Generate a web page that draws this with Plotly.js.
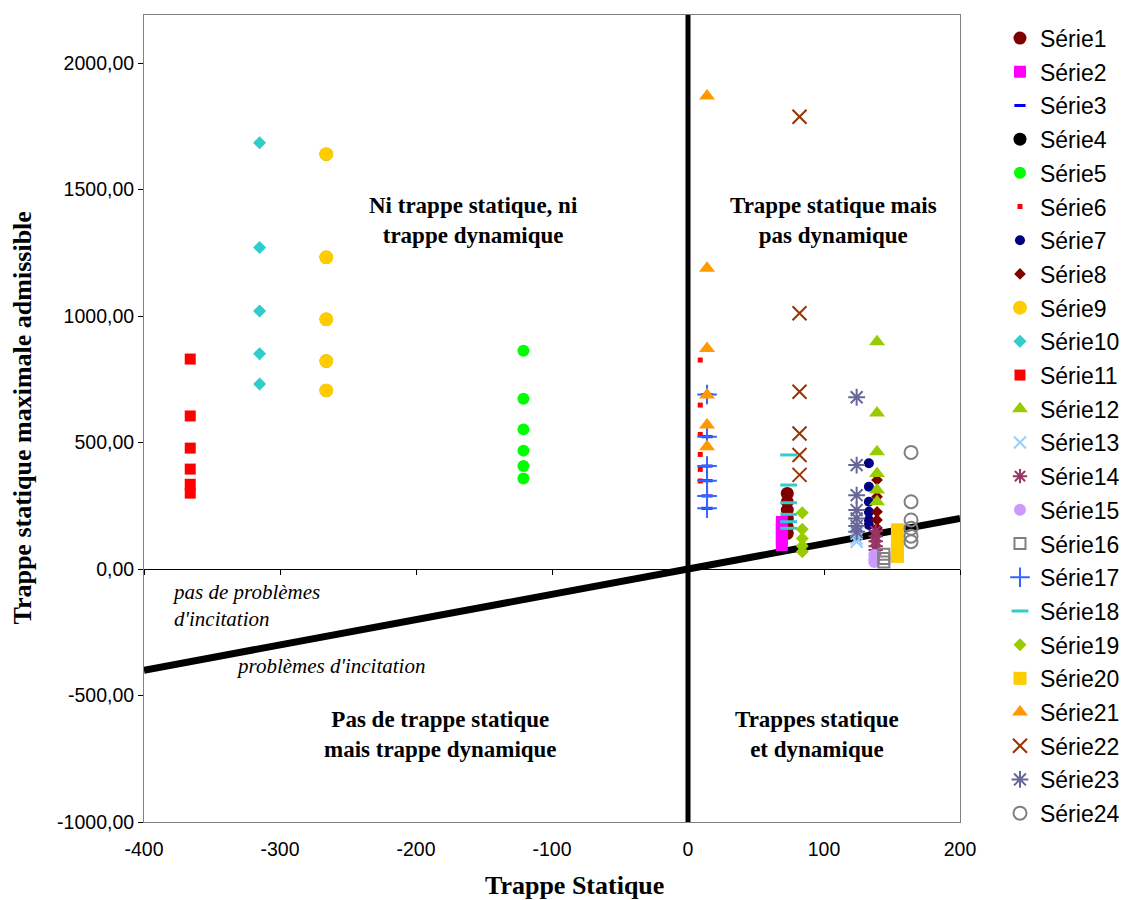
<!DOCTYPE html>
<html><head><meta charset="utf-8">
<script src="https://cdn.plot.ly/plotly-3.0.1.min.js"></script>
<style>body{margin:0;background:#fff}#chart{width:1122px;height:900px}</style>
</head><body><div id="chart"></div>
<script>
// ---- data ----
const seriesNames = ["Série1","Série2","Série3","Série4","Série5","Série6","Série7","Série8","Série9","Série10","Série11","Série12","Série13","Série14","Série15","Série16","Série17","Série18","Série19","Série20","Série21","Série22","Série23","Série24"];
const s01x = [73,73,73,73,73,73];            const s01y = [299,266,233,200,167,141];
const s02x = [69,69,69,69,69];               const s02y = [186,163,140,117,95];
const s03x = [14,14,14,14,14,14];            const s03y = [690,523,407,349,289,240];
const s04x = [-266,-266,-266,-266,-266];     const s04y = [1640,1232,987,822,706];
const s05x = [-121,-121,-121,-121,-121,-121];const s05y = [863,673,552,468,407,358];
const s06x = [9,9,9,9,9,9];                  const s06y = [826,648,532,453,394,348];
const s07x = [133,133,133,133,133,133];      const s07y = [418,325,266,226,194,174];
const s08x = [139,139,139,139,139];          const s08y = [352,286,226,194,162];
const s09x = [-266,-266,-266,-266,-266];     const s09y = [1640,1232,987,822,706];
const s10x = [-315,-315,-315,-315,-315];     const s10y = [1685,1271,1020,851,731];
const s11x = [-366,-366,-366,-366,-366,-366];const s11y = [830,605,478,395,335,300];
const s12x = [139,139,139,139,139,139];      const s12y = [898,617,464,378,312,266];
const s13x = [124,124,124];                  const s13y = [140,120,108];
const s14x = [138,138,138,138,138];          const s14y = [150,130,110,90,75];
const s15x = [137,137,137];                  const s15y = [55,40,28];
const s16x = [144,144,144];                  const s16y = [58,42,28];
const s17x = [14,14,14,14,14,14];            const s17y = [690,523,407,349,289,240];
const s18x = [74,74,74,74,74,74];            const s18y = [451,332,262,216,187,161];
const s19x = [84,84,84,84,84];               const s19y = [222,157,121,91,68];
const s20x = [154,154,154,154,154];          const s20y = [155,125,100,75,50];
const s21x = [14,14,14,14,14,14];            const s21y = [1870,1189,872,688,569,483];
const s22x = [82,82,82,82,82,82];            const s22y = [1788,1011,701,536,451,372];
const s23x = [124,124,124,124,124,124,124];  const s23y = [679,411,292,233,200,170,147];
const s24x = [164,164,164,164,164,164];      const s24y = [461,266,194,161,130,108];
// reference lines
const diagX = [-400, 200];   const diagY = [-400, 200];
const vertX = [0, 0];        const vertY = [-1000, 2190];
// tick labels
const xTickVals = [-400,-300,-200,-100,0,100,200];
const xTickText = ["-400","-300","-200","-100","0","100","200"];
const yTickVals = [-1000,-500,0,500,1000,1500,2000];
const yTickText = ["-1000,00","-500,00","0,00","500,00","1000,00","1500,00","2000,00"];

const xs = [s01x,s02x,s03x,s04x,s05x,s06x,s07x,s08x,s09x,s10x,s11x,s12x,s13x,s14x,s15x,s16x,s17x,s18x,s19x,s20x,s21x,s22x,s23x,s24x];
const ys = [s01y,s02y,s03y,s04y,s05y,s06y,s07y,s08y,s09y,s10y,s11y,s12y,s13y,s14y,s15y,s16y,s17y,s18y,s19y,s20y,s21y,s22y,s23y,s24y];

// ---- styles ----
const styles = [
  {symbol:"circle", color:"#800000", size:13},
  {symbol:"square", color:"#FF00FF", size:12},
  {symbol:"line-ew", color:"#0000FF", size:8, lw:3},
  {symbol:"circle", color:"#000000", size:13},
  {symbol:"circle", color:"#00FF00", size:12},
  {symbol:"square", color:"#FF0000", size:5},
  {symbol:"circle", color:"#000080", size:10},
  {symbol:"diamond", color:"#800000", size:9},
  {symbol:"circle", color:"#FFCC00", size:14},
  {symbol:"diamond", color:"#33CCCC", size:10},
  {symbol:"square", color:"#FF0000", size:11},
  {symbol:"triangle-up", color:"#99CC00", size:14},
  {symbol:"x-thin-open", color:"#99CCFF", size:12, lw:2},
  {symbol:"asterisk-open", color:"#993366", size:12, lw:2},
  {symbol:"circle", color:"#CC99FF", size:12},
  {symbol:"square-open", color:"#808080", size:11, lw:2},
  {symbol:"cross-thin-open", color:"#3366FF", size:14, lw:2},
  {symbol:"line-ew-open", color:"#33CCCC", size:12, lw:3},
  {symbol:"diamond", color:"#99CC00", size:10},
  {symbol:"square", color:"#FFCC00", size:13},
  {symbol:"triangle-up", color:"#FF9900", size:14},
  {symbol:"x-thin-open", color:"#993300", size:14, lw:2},
  {symbol:"asterisk-open", color:"#666699", size:14, lw:2},
  {symbol:"circle-open", color:"#808080", size:13, lw:2}
];

const traces = [
  {x: diagX, y: diagY, mode:"lines", line:{color:"#000", width:7}, showlegend:false, hoverinfo:"skip"},
  {x: vertX, y: vertY, mode:"lines", line:{color:"#000", width:5}, showlegend:false, hoverinfo:"skip"}
];
seriesNames.forEach((n,i)=>{
  const st = styles[i];
  const open = st.symbol.indexOf("open")>=0 || st.symbol.indexOf("line")===0;
  traces.push({
    x: xs[i], y: ys[i], name: n, type:"scatter", mode:"markers", legendgroup:"g"+i,
    marker:{symbol: st.symbol, size: st.size, color: st.color,
            line: open ? {color: st.color, width: st.lw||2} : {width:0}}
  });
});

const serif = "Liberation Serif, Times New Roman, serif";
const sans = "Liberation Sans, Arial, sans-serif";
const ann = [
  {x:-158, y:1379, xref:"x", yref:"y", text:"<b>Ni trappe statique, ni<br>trappe dynamique</b>", font:{family:serif,size:23,color:"#000"}, showarrow:false},
  {x:107, y:1379, xref:"x", yref:"y", text:"<b>Trappe statique mais<br>pas dynamique</b>", font:{family:serif,size:23,color:"#000"}, showarrow:false},
  {x:-182, y:-654, xref:"x", yref:"y", text:"<b>Pas de trappe statique<br>mais trappe dynamique</b>", font:{family:serif,size:23,color:"#000"}, showarrow:false},
  {x:95, y:-654, xref:"x", yref:"y", text:"<b>Trappes statique<br>et dynamique</b>", font:{family:serif,size:23,color:"#000"}, showarrow:false},
  {x:-381, y:-146, xref:"x", yref:"y", xanchor:"left", align:"left", text:"<i>pas de problèmes<br>d'incitation</i>", font:{family:serif,size:21,color:"#000"}, showarrow:false},
  {x:-334, y:-383, xref:"x", yref:"y", xanchor:"left", text:"<i>problèmes d'incitation</i>", font:{family:serif,size:21,color:"#000"}, showarrow:false},
  {x:0.528, y:-0.079, xref:"paper", yref:"paper", xanchor:"center", yanchor:"middle", text:"<b>Trappe Statique</b>", font:{family:serif,size:26,color:"#000"}, showarrow:false},
  {x:-0.1495, y:0.5, xref:"paper", yref:"paper", xanchor:"center", yanchor:"middle", textangle:-90, text:"<b>Trappe statique maximale admissible</b>", font:{family:serif,size:26,color:"#000"}, showarrow:false}
];

const layout = {
  width:1122, height:900,
  margin:{l:144, r:162, t:15, b:78, autoexpand:false},
  paper_bgcolor:"#fff", plot_bgcolor:"#fff",
  showlegend:true,
  legend:{x:1.049, y:0.998, xanchor:"left", yanchor:"top", font:{family:sans, size:23, color:"#000"}, tracegroupgap:0.8, bgcolor:"rgba(0,0,0,0)"},
  xaxis:{range:[-400,200], tickvals:xTickVals, ticktext:xTickText, ticks:"", showgrid:false, zeroline:false, ticklabelstandoff:10,
         showline:true, mirror:true, linecolor:"#808080", linewidth:1, tickfont:{family:sans,size:19.5,color:"#000"}},
  xaxis2:{range:[-400,200], overlaying:"x", anchor:"free", position:1000/3190, side:"bottom", tickvals:xTickVals,
          showticklabels:false, ticks:"outside", ticklen:5, tickcolor:"#000", showgrid:false, zeroline:false,
          showline:true, linecolor:"#000", linewidth:1},
  yaxis:{range:[-1000,2190], tickvals:yTickVals, ticktext:yTickText, ticks:"outside", ticklen:5, tickcolor:"#000",
         showgrid:false, zeroline:false, showline:true, mirror:true, linecolor:"#808080", linewidth:1,
         tickfont:{family:sans,size:19.5,color:"#000"}},
  annotations: ann
};
// dummy trace to activate xaxis2
traces.push({x:[], y:[], xaxis:"x2", yaxis:"y", showlegend:false, hoverinfo:"skip"});
Plotly.newPlot("chart", traces, layout, {staticPlot:true, displayModeBar:false});
</script>
</body></html>
